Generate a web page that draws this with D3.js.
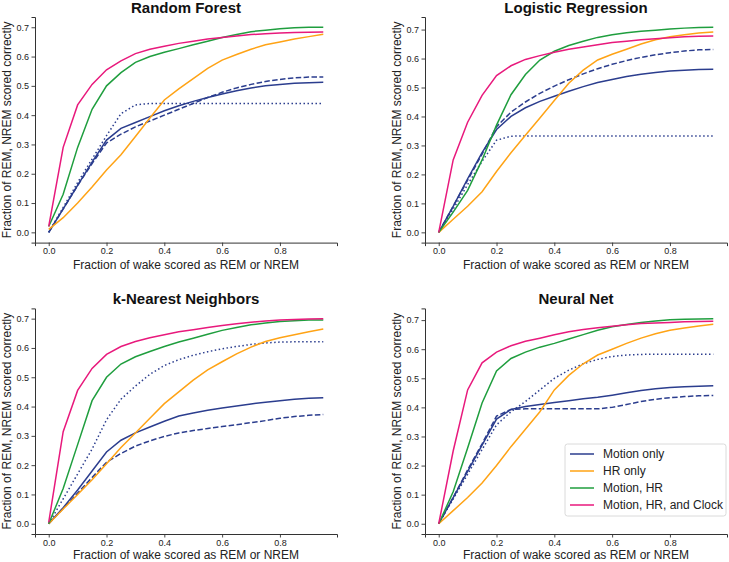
<!DOCTYPE html>
<html><head><meta charset="utf-8">
<script src="https://cdn.jsdelivr.net/npm/d3@7"></script>
<style>
body{margin:0;background:#fff;}
text{font-family:"Liberation Sans",Arial,sans-serif;}
</style></head>
<body><svg id="chart" width="729" height="562"></svg>
<script>
// ---- data ----
const fpr = [0,0.05,0.1,0.15,0.2,0.25,0.3,0.35,0.4,0.45,0.5,0.55,0.6,0.65,0.7,0.75,0.8,0.85,0.9,0.95];
const modelTitles = ["Random Forest","Logistic Regression","k-Nearest Neighbors","Neural Net"];
const seriesNames = ["Motion only","HR only","Motion, HR","Motion, HR, and Clock"];
const seriesColors = ["#2b3d8e","#ffa315","#1f9e3e","#e8197c"];
const xTicks = [0,0.2,0.4,0.6,0.8];
const yTicks = [0,0.1,0.2,0.3,0.4,0.5,0.6,0.7];

// Random Forest
const rfMotion    = [0,0.08,0.16,0.24,0.315,0.355,0.375,0.395,0.415,0.432,0.447,0.46,0.472,0.483,0.493,0.5,0.505,0.509,0.511,0.512];
const rfMotionDash= [0,0.08,0.16,0.235,0.305,0.335,0.36,0.38,0.4,0.42,0.44,0.46,0.478,0.493,0.505,0.515,0.522,0.527,0.53,0.53];
const rfMotionDot = [0,0.085,0.17,0.25,0.33,0.405,0.435,0.44,0.44,0.44,0.44,0.44,0.44,0.44,0.44,0.44,0.44,0.44,0.44,0.44];
const rfHR        = [0.01,0.05,0.1,0.155,0.213,0.265,0.327,0.39,0.452,0.49,0.525,0.56,0.588,0.607,0.625,0.64,0.65,0.66,0.668,0.676];
const rfMotionHR  = [0.02,0.13,0.29,0.42,0.5,0.545,0.58,0.6,0.615,0.627,0.64,0.652,0.665,0.675,0.685,0.69,0.695,0.698,0.7,0.7];
const rfAll       = [0.02,0.29,0.435,0.505,0.555,0.585,0.61,0.625,0.635,0.645,0.652,0.66,0.665,0.67,0.675,0.678,0.68,0.682,0.683,0.684];

// Logistic Regression
const lrMotion    = [0,0.09,0.185,0.275,0.355,0.4,0.43,0.452,0.47,0.487,0.503,0.517,0.528,0.538,0.546,0.552,0.557,0.56,0.562,0.563];
const lrMotionDash= [0,0.09,0.18,0.27,0.365,0.415,0.45,0.48,0.505,0.527,0.547,0.565,0.58,0.593,0.604,0.613,0.62,0.626,0.63,0.631];
const lrMotionDot = [0,0.08,0.165,0.245,0.318,0.332,0.333,0.333,0.333,0.333,0.333,0.333,0.333,0.333,0.333,0.333,0.333,0.333,0.333,0.333];
const lrHR        = [0,0.045,0.09,0.14,0.21,0.275,0.335,0.395,0.455,0.515,0.56,0.595,0.615,0.632,0.65,0.665,0.675,0.682,0.688,0.692];
const lrMotionHR  = [0,0.07,0.145,0.25,0.37,0.475,0.545,0.595,0.625,0.645,0.66,0.673,0.682,0.689,0.694,0.698,0.702,0.705,0.707,0.708];
const lrAll       = [0,0.25,0.38,0.473,0.541,0.575,0.597,0.61,0.622,0.632,0.64,0.648,0.655,0.66,0.665,0.668,0.672,0.675,0.677,0.678];

// k-Nearest Neighbors
const knnMotion    = [0,0.055,0.115,0.18,0.245,0.285,0.31,0.33,0.35,0.368,0.378,0.387,0.395,0.402,0.409,0.415,0.42,0.425,0.428,0.43];
const knnMotionDash= [0,0.052,0.105,0.158,0.21,0.24,0.265,0.283,0.298,0.31,0.318,0.325,0.332,0.338,0.345,0.352,0.36,0.366,0.37,0.373];
const knnMotionDot = [0,0.085,0.17,0.255,0.355,0.425,0.47,0.51,0.54,0.56,0.575,0.587,0.597,0.605,0.612,0.617,0.62,0.621,0.621,0.621];
const knnHR        = [0,0.05,0.1,0.15,0.205,0.26,0.31,0.36,0.41,0.45,0.49,0.525,0.553,0.58,0.603,0.622,0.635,0.645,0.655,0.665];
const knnMotionHR  = [0,0.12,0.27,0.42,0.5,0.545,0.57,0.588,0.605,0.62,0.633,0.647,0.66,0.67,0.679,0.685,0.69,0.693,0.695,0.695];
const knnAll       = [0.005,0.314,0.455,0.53,0.578,0.605,0.622,0.635,0.645,0.655,0.662,0.67,0.677,0.683,0.688,0.692,0.695,0.697,0.699,0.7];

// Neural Net
const nnMotion    = [0,0.09,0.18,0.27,0.36,0.393,0.403,0.41,0.417,0.423,0.43,0.435,0.442,0.45,0.458,0.464,0.468,0.471,0.473,0.474];
const nnMotionDash= [0,0.09,0.185,0.275,0.37,0.393,0.395,0.395,0.395,0.395,0.395,0.395,0.4,0.41,0.42,0.428,0.433,0.437,0.44,0.441];
const nnMotionDot = [0,0.085,0.17,0.255,0.34,0.385,0.42,0.46,0.5,0.528,0.55,0.565,0.575,0.58,0.582,0.583,0.583,0.583,0.583,0.583];
const nnHR        = [0,0.045,0.09,0.14,0.2,0.265,0.325,0.385,0.46,0.51,0.55,0.58,0.6,0.62,0.638,0.653,0.665,0.673,0.68,0.686];
const nnMotionHR  = [0,0.11,0.26,0.415,0.525,0.568,0.59,0.607,0.62,0.635,0.65,0.665,0.677,0.685,0.692,0.697,0.701,0.703,0.704,0.705];
const nnAll       = [0,0.25,0.46,0.553,0.59,0.612,0.627,0.638,0.65,0.66,0.668,0.674,0.679,0.684,0.688,0.69,0.692,0.694,0.695,0.696];

// ---- build ----
const panels = [
  {title: modelTitles[0], motion:[rfMotion,rfMotionDash,rfMotionDot], hr:rfHR, mhr:rfMotionHR, all:rfAll},
  {title: modelTitles[1], motion:[lrMotion,lrMotionDash,lrMotionDot], hr:lrHR, mhr:lrMotionHR, all:lrAll},
  {title: modelTitles[2], motion:[knnMotion,knnMotionDash,knnMotionDot], hr:knnHR, mhr:knnMotionHR, all:knnAll},
  {title: modelTitles[3], motion:[nnMotion,nnMotionDash,nnMotionDot], hr:nnHR, mhr:nnMotionHR, all:nnAll}
];
const layout = [
  {x0:35, x1:337, y0:17, y1:242.6, xl:26},
  {x0:425, x1:727, y0:17, y1:242.6, xl:26},
  {x0:35, x1:337, y0:308.4, y1:534, xl:25},
  {x0:425, x1:727, y0:308.4, y1:534, xl:25}
];
const svg = d3.select("#chart");
const dashes = [null, "5.5,2.4", "1.5,2.5"];

panels.forEach((p, i) => {
  const L = layout[i];
  const allVals = [...p.motion.flat(), ...p.hr, ...p.mhr, ...p.all];
  const M = d3.max(allVals);
  const xmax = d3.max(fpr);
  const x = d3.scaleLinear().domain([-0.05*xmax, 1.05*xmax]).range([L.x0, L.x1]);
  const y = d3.scaleLinear().domain([-0.05*M, 1.05*M]).range([L.y1, L.y0]);
  const g = svg.append("g");

  const xa = g.append("g").attr("transform", `translate(0,${L.y1})`)
    .call(d3.axisBottom(x).tickValues(xTicks).tickFormat(d3.format(".1f")).tickSizeOuter(0).tickSize(3.5).tickPadding(2));
  const ya = g.append("g").attr("transform", `translate(${L.x0},0)`)
    .call(d3.axisLeft(y).tickValues(yTicks).tickFormat(d3.format(".1f")).tickSizeOuter(0).tickSize(3.5).tickPadding(2.5));
  [xa, ya].forEach(a => {
    a.select(".domain").attr("stroke","#333").attr("stroke-width",1);
    a.selectAll(".tick line").attr("stroke","#333").attr("stroke-width",0.9);
    a.selectAll(".tick text").attr("fill","#222").style("font-size","9px").style("font-family","'Liberation Sans',Arial,sans-serif");
  });

  const line = d3.line().x((d, k) => x(fpr[k])).y(d => y(d));
  const draw = (arr, color, dash) => {
    g.append("path").datum(arr).attr("d", line).attr("fill","none")
      .attr("stroke", color).attr("stroke-width", 1.5)
      .attr("stroke-dasharray", dash);
  };
  p.motion.forEach((arr, k) => draw(arr, seriesColors[0], dashes[k]));
  draw(p.hr, seriesColors[1], null);
  draw(p.mhr, seriesColors[2], null);
  draw(p.all, seriesColors[3], null);

  const cx = (L.x0 + L.x1) / 2;
  g.append("text").attr("x", cx).attr("y", L.y0 - 4.5).attr("text-anchor","middle")
    .style("font-size","15px").style("font-weight","bold").attr("fill","#111").text(p.title);
  g.append("text").attr("x", cx).attr("y", L.y1 + L.xl).attr("text-anchor","middle")
    .style("font-size","12px").attr("fill","#222").text("Fraction of wake scored as REM or NREM");
  g.append("text").attr("transform", `translate(${L.x0 - 24},${(L.y0 + L.y1)/2}) rotate(-90)`)
    .attr("text-anchor","middle").style("font-size","12px").attr("fill","#222")
    .text("Fraction of REM, NREM scored correctly");

  if (i === 3) {
    const lg = g.append("g");
    lg.append("rect").attr("x", 565).attr("y", 444).attr("width", 161).attr("height", 72)
      .attr("rx", 2.5).attr("fill","#fff").attr("fill-opacity",0.85).attr("stroke","#d0d0d0").attr("stroke-width",0.8);
    seriesNames.forEach((n, k) => {
      const yy = 454 + k * 17;
      lg.append("line").attr("x1", 570).attr("x2", 594).attr("y1", yy).attr("y2", yy)
        .attr("stroke", seriesColors[k]).attr("stroke-width", 1.5);
      lg.append("text").attr("x", 603).attr("y", yy + 4.3).style("font-size","12px").attr("fill","#222").text(n);
    });
  }
});
</script></body></html>
